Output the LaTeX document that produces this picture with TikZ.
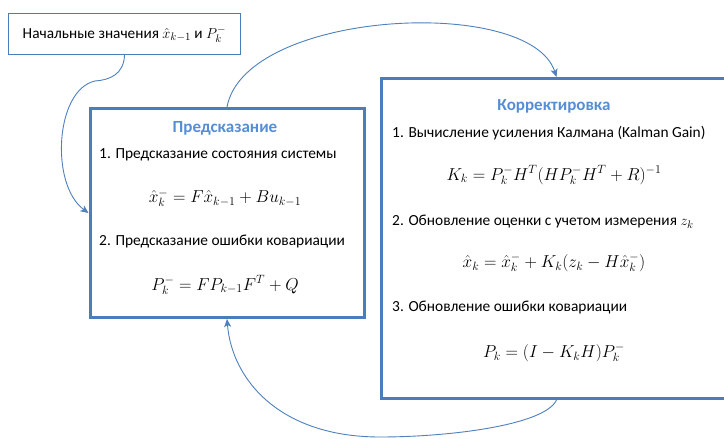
\documentclass[tikz,border=0pt]{standalone}
\usepackage{fontspec}
\setmainfont{Carlito}
\usetikzlibrary{arrows.meta}
\definecolor{boxblue}{RGB}{74,126,187}
\definecolor{titleblue}{RGB}{85,142,213}
\definecolor{linkblue}{RGB}{79,129,189}
\begin{document}
\begin{tikzpicture}[x=1pt,y=-1pt,
  bigbox/.style={draw=boxblue, line width=3pt, inner sep=0pt, anchor=north west},
  initbox/.style={draw=boxblue, line width=1pt, inner sep=0pt, anchor=north west, font=\fontsize{15.3}{18}\selectfont},
  titletext/.style={text=titleblue, font=\fontsize{17}{20}\selectfont\bfseries, inner sep=0pt},
  itemtext/.style={anchor=west, inner sep=0pt, font=\fontsize{15.4}{18}\selectfont},
  formula/.style={inner sep=0pt, font=\fontsize{17}{20}\selectfont},
  conn/.style={draw=linkblue, line width=0.9pt, -{Stealth[length=8pt,width=7pt,inset=2pt]}}
]
\clip (0,0) rectangle (724,439);
\fill[white] (0,0) rectangle (724,439);

% boxes
\node[initbox, minimum width=232pt, minimum height=41pt] (init) at (8,13)
  {Начальные значения $\hat{x}_{k-1}$ и $P_k^-$};
\node[bigbox, minimum width=274pt, minimum height=209pt] (pred) at (88.5,107) {};
\node[bigbox, minimum width=350pt, minimum height=320pt] (corr) at (380,77) {};

% prediction box content
\node[titletext] (ptitle) at (225,128) {Предсказание};
\node[itemtext] (p1) at (99,155) {1. Предсказание состояния системы};
\node[formula] (pf1) at (225,198) {$\hat{x}_k^- = F\hat{x}_{k-1} + Bu_{k-1}$};
\node[itemtext] (p2) at (99,242) {2. Предсказание ошибки ковариации};
\node[formula] (pf2) at (225,285) {$P_k^- = FP_{k-1}F^T + Q$};

% correction box content
\node[titletext] (ctitle) at (554,106) {Корректировка};
\node[itemtext] (c1) at (392,133) {1. Вычисление усиления Калмана (Kalman Gain)};
\node[formula] (cf1) at (554,175) {$K_k = P_k^- H^T (HP_k^- H^T + R)^{-1}$};
\node[itemtext] (c2) at (392,222) {2. Обновление оценки с учетом измерения $z_k$};
\node[formula] (cf2) at (554,263) {$\hat{x}_k = \hat{x}_k^- + K_k(z_k - H\hat{x}_k^-)$};
\node[itemtext] (c3) at (392,308) {3. Обновление ошибки ковариации};
\node[formula] (cf3) at (554,353) {$P_k = (I - K_k H)P_k^-$};

% connectors
\coordinate (bend1) at (95,81);
\coordinate (bend3) at (380,437);
\draw[conn] (init.south) .. controls (124,74) and (110,80) .. (bend1)
  .. controls (55,90) and (50,185) .. (pred.west);
\draw[conn] (pred.north) .. controls (245,10) and (530,-5) .. (corr.north);
\draw[conn] (corr.south) .. controls (545,425) and (450,437) .. (bend3)
  .. controls (280,437) and (232,380) .. (pred.south);
\end{tikzpicture}
\end{document}
